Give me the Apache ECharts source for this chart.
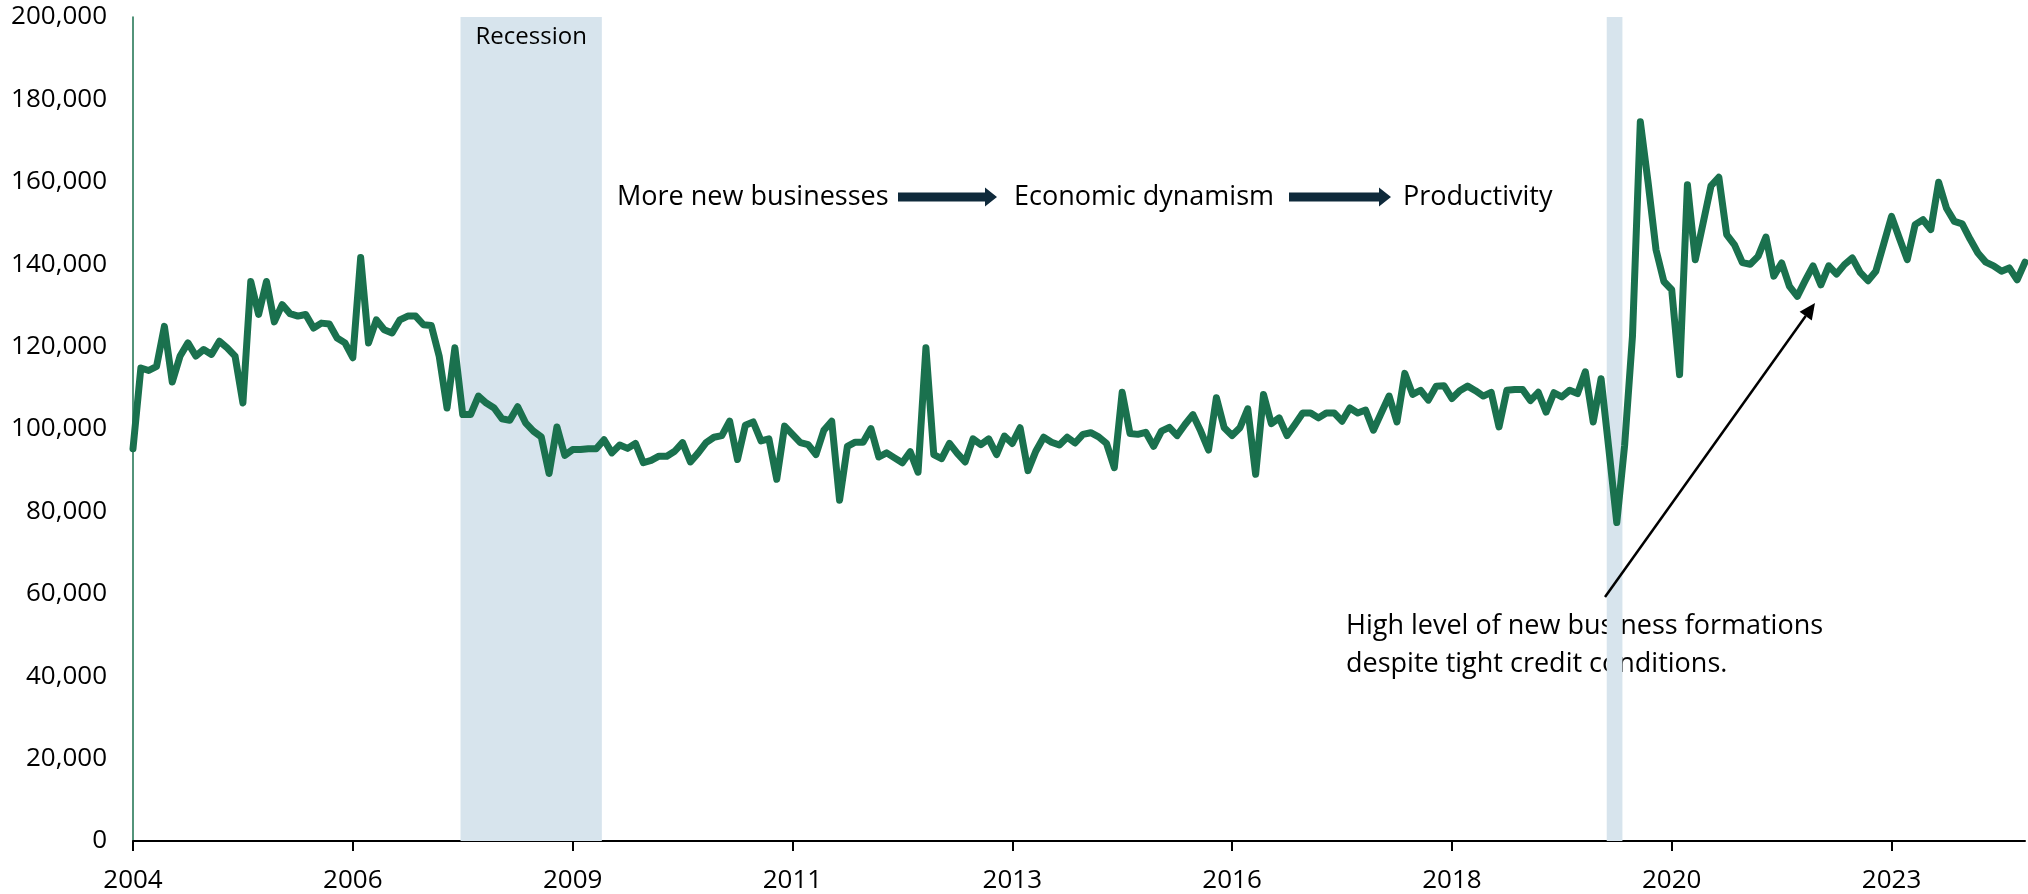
<!DOCTYPE html>
<html>
<head>
<meta charset="utf-8">
<script src="https://cdn.jsdelivr.net/npm/echarts@6.0.0/dist/echarts.min.js"></script>
<style>
  html, body { margin: 0; padding: 0; background: #fff; }
  #chart { width: 2028px; height: 894px; }
</style>
</head>
<body>
<div id="chart"></div>
<script>
// ---------------- DATA ----------------
const startMonth = '2004-07';
const monthCount = 242;

// Monthly new business formations
const formations = [
  95200, 114800, 114200, 115200, 124900, 111400, 117700, 120900, 117700, 119300,
  118100, 121300, 119700, 117700, 106300, 135800, 127800, 135800, 126000, 130200,
  128000, 127400, 127800, 124500, 125700, 125500, 122100, 120900, 117300, 141600,
  120900, 126500, 124100, 123300, 126500, 127400, 127400, 125300, 125100, 117700,
  105100, 119700, 103500, 103500, 108000, 106300, 105100, 102500, 102100, 105400,
  101500, 99500, 98100, 89200, 100500, 93600, 95000, 95000, 95200, 95200,
  97400, 94200, 96100, 95300, 96500, 91800, 92400, 93400, 93400, 94600,
  96700, 92000, 94200, 96700, 98000, 98400, 101900, 92600, 100900, 101700,
  97100, 97600, 87800, 100700, 98700, 96700, 96200, 93800, 99700, 101900,
  82700, 95800, 96800, 96800, 100100, 93200, 94200, 93000, 91800, 94500,
  89500, 119700, 93800, 92800, 96500, 94100, 92000, 97600, 96200, 97600,
  93800, 98300, 96500, 100300, 89900, 94600, 98000, 96800, 96100, 98000,
  96600, 98700, 99100, 98100, 96500, 90600, 108900, 98900, 98700, 99200,
  95800, 99500, 100400, 98400, 101100, 103500, 99500, 94900, 107600, 100300,
  98400, 100300, 104900, 89000, 108400, 101300, 102700, 98400, 101100, 103900,
  103900, 102700, 103900, 103900, 101900, 105100, 103900, 104600, 99700, 103900,
  108000, 101700, 113500, 108400, 109400, 107000, 110400, 110500, 107400, 109300,
  110400, 109300, 108000, 108900, 100500, 109400, 109600, 109600, 106900, 108900,
  104100, 108800, 107800, 109400, 108600, 113900, 101700, 112200, 95000, 77300,
  96000, 122500, 174600, 159700, 143500, 135800, 133800, 113200, 159300, 141100,
  150000, 159000, 161100, 147200, 144700, 140400, 140000, 141900, 146600, 137100,
  140300, 134600, 132200, 136000, 139600, 135000, 139600, 137600, 139900, 141500,
  138000, 136000, 138300, 144900, 151600, 146300, 141100, 149600, 150800, 148400,
  159900, 153600, 150400, 149800, 146100, 142700, 140500, 139600, 138300, 139100,
  136200, 140500
];

// x-axis tick labels and the month each one sits on
const tickLabels = ['2004', '2006', '2009', '2011', '2013', '2016', '2018', '2020', '2023'];
const tickMonths = ['2004-07', '2006-11', '2009-03', '2011-07', '2013-11', '2016-03', '2018-07', '2020-11', '2023-03'];

// Recession periods (start month, end month)
const recessions = [['2007-12', '2009-06'], ['2020-02', '2020-04']];

const yTicks = [0, 20000, 40000, 60000, 80000, 100000, 120000, 140000, 160000, 180000, 200000];

const flowTexts = ['More new businesses', 'Economic dynamism', 'Productivity'];
const noteLines = ['High level of new business formations', 'despite tight credit conditions.'];
const recessionLabel = 'Recession';

// ---------------- BUILD ----------------
const months = [];
{
  let y = +startMonth.slice(0, 4), m = +startMonth.slice(5, 7);
  for (let i = 0; i < monthCount; i++) {
    months.push(y + '-' + String(m).padStart(2, '0'));
    m++; if (m > 12) { m = 1; y++; }
  }
}
const idx = (s) => months.indexOf(s);
const tickIdx = tickMonths.map(idx);
const seriesData = formations.map((v, i) => [i, v]);
const recData = recessions.map(r => [idx(r[0]) + 0.72, idx(r[1]) + 0.72]);

const GREEN = '#1a714e';
const SHADE = '#d7e4ed';
const NAVY = '#0f2a3b';
const FONT = '"Open Sans", "Liberation Sans", sans-serif';

function arrowShape(x0, x1, cy) {
  const sh = 4.5, hh = 9.5, hl = 12;
  return [[x0, cy - sh], [x1 - hl, cy - sh], [x1 - hl, cy - hh], [x1, cy], [x1 - hl, cy + hh], [x1 - hl, cy + sh], [x0, cy + sh]];
}

const chart = echarts.init(document.getElementById('chart'), null, { renderer: 'canvas' });

// annotation arrow geometry
const aStart = [1605, 597], aTip = [1815, 303];
const adx = aTip[0] - aStart[0], ady = aTip[1] - aStart[1];
const alen = Math.hypot(adx, ady);
const ux = adx / alen, uy = ady / alen;
const headL = 16, headW = 7.5;
const aBase = [aTip[0] - ux * headL, aTip[1] - uy * headL];

const option = {
  animation: false,
  backgroundColor: '#ffffff',
  grid: { left: 133, right: 3, top: 17, bottom: 52, containLabel: false },
  xAxis: {
    type: 'value',
    min: 0,
    max: monthCount - 1,
    splitLine: { show: false },
    axisLine: { show: true, onZero: false, lineStyle: { color: '#000', width: 2 } },
    axisTick: { show: true, customValues: tickIdx, length: 10, lineStyle: { color: '#000', width: 2 } },
    axisLabel: {
      customValues: tickIdx,
      formatter: (v) => { const k = tickIdx.indexOf(Math.round(v)); return k >= 0 ? tickLabels[k] : ''; },
      color: '#000', fontSize: 26, fontFamily: FONT, margin: 27
    }
  },
  yAxis: {
    type: 'value',
    min: 0,
    max: 200000,
    interval: 20000,
    splitLine: { show: false },
    axisLine: { show: true, lineStyle: { color: GREEN, width: 1.5 } },
    axisTick: { show: false },
    axisLabel: {
      color: '#000', fontSize: 26, fontFamily: FONT, margin: 26,
      formatter: (v) => v.toLocaleString('en-US')
    }
  },
  series: [
    {
      type: 'custom',
      z: 1,
      silent: true,
      data: recData,
      encode: { x: [0, 1] },
      renderItem: (params, api) => {
        const p0 = api.coord([api.value(0), yTicks[yTicks.length - 1]]);
        const p1 = api.coord([api.value(1), 0]);
        const children = [{
          type: 'rect',
          shape: { x: p0[0], y: p0[1], width: p1[0] - p0[0], height: p1[1] - p0[1] },
          style: { fill: SHADE }
        }];
        if (params.dataIndex === 0) {
          children.push({
            type: 'text',
            style: {
              text: recessionLabel, x: (p0[0] + p1[0]) / 2, y: p0[1] + 20,
              align: 'center', verticalAlign: 'middle',
              fill: '#000', fontSize: 24, fontFamily: FONT
            }
          });
        }
        return { type: 'group', children };
      }
    },
    {
      type: 'line',
      z: 3,
      data: seriesData,
      showSymbol: false,
      lineStyle: { color: GREEN, width: 7, join: 'round', cap: 'round' },
      silent: true
    }
  ],
  graphic: [
    { type: 'text', left: 617, top: 184, style: { text: flowTexts[0], fill: '#000', fontSize: 27, fontFamily: FONT } },
    { type: 'polygon', shape: { points: arrowShape(898, 997, 197) }, style: { fill: NAVY } },
    { type: 'text', left: 1014, top: 184, style: { text: flowTexts[1], fill: '#000', fontSize: 27, fontFamily: FONT } },
    { type: 'polygon', shape: { points: arrowShape(1289, 1391, 197) }, style: { fill: NAVY } },
    { type: 'text', left: 1403, top: 184, style: { text: flowTexts[2], fill: '#000', fontSize: 27, fontFamily: FONT } },
    { type: 'line', shape: { x1: aStart[0], y1: aStart[1], x2: aBase[0], y2: aBase[1] }, style: { stroke: '#000', lineWidth: 2.5 }, z: 10 },
    { type: 'polygon', shape: { points: [aTip, [aBase[0] - uy * headW, aBase[1] + ux * headW], [aBase[0] + uy * headW, aBase[1] - ux * headW]] }, style: { fill: '#000' }, z: 10 },
    { type: 'text', left: 1346, top: 613, style: { text: noteLines[0], fill: '#000', fontSize: 27, fontFamily: FONT } },
    { type: 'text', left: 1346, top: 651, style: { text: noteLines[1], fill: '#000', fontSize: 27, fontFamily: FONT } }
  ]
};
chart.setOption(option);
</script>
</body>
</html>
